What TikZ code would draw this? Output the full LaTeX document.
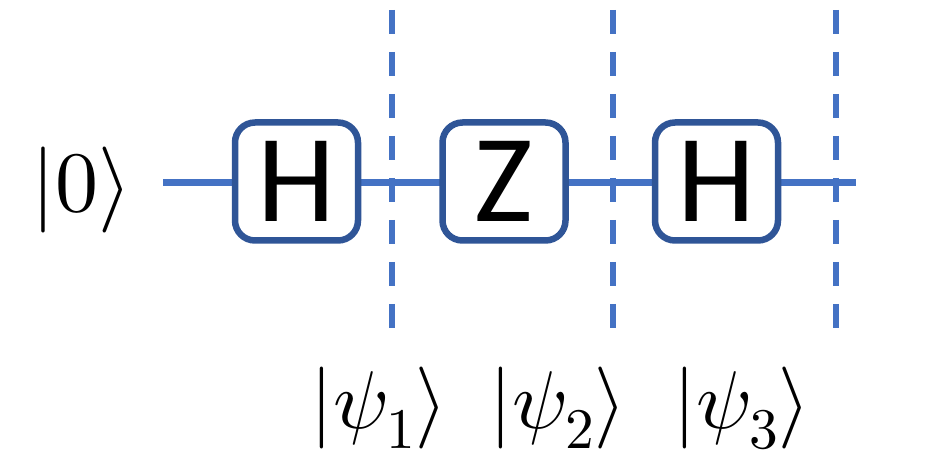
\documentclass[tikz,border=0pt]{standalone}
\usepackage{unicode-math}
\setmathfont{Latin Modern Math}
\newfontfamily\carl{Carlito}
\definecolor{wireblue}{HTML}{4472C4}
\definecolor{boxblue}{HTML}{2F5597}
\begin{document}
\begin{tikzpicture}[x=1pt,y=-1pt,
  gate/.style={draw=boxblue,line width=6.5pt,rounded corners=20pt,fill=white,
    minimum width=123pt,minimum height=118pt,inner sep=0pt,
    font=\carl\fontsize{125}{125}\selectfont},
  wire/.style={draw=wireblue,line width=7pt},
  slice/.style={draw=wireblue,line width=6pt,dash pattern=on 24pt off 18pt},
  ket/.style={inner sep=0pt,anchor=base,font=\fontsize{82}{82}\selectfont}]
\useasboundingbox (0,0) rectangle (940,462);
\coordinate (w0) at (163,183);
\coordinate (w1) at (856,183);
\draw[wire] (w0) -- (w1);
\foreach \x/\n in {392/1,613/2,836/3}{
  \coordinate (t\n) at (\x,10);
  \coordinate (b\n) at (\x,336);
  \draw[slice] (t\n) -- (b\n);
}
\node[gate] (g1) at (296.5,181.5) {H};
\node[gate] (g2) at (504,181.5) {Z};
\node[gate] (g3) at (716.5,181.5) {H};
\node[ket,font=\fontsize{86}{86}\selectfont] (in) at (82,212) {$|0\rangle$};
\node[ket] (p1) at (379,428) {$|\psi_1\rangle$};
\node[ket] (p2) at (558,428) {$|\psi_2\rangle$};
\node[ket] (p3) at (742,428) {$|\psi_3\rangle$};
\end{tikzpicture}
\end{document}
